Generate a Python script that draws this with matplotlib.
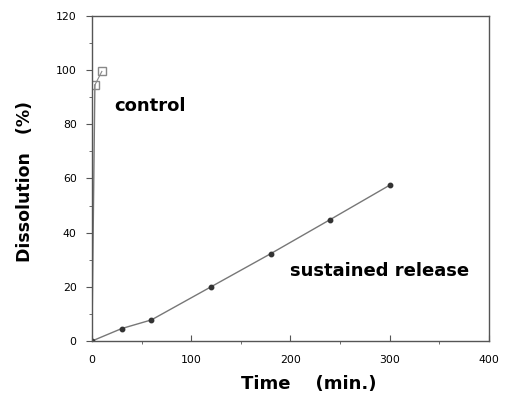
import numpy as np
import matplotlib.pyplot as plt
from matplotlib.ticker import MultipleLocator

# data
sr_time = [0, 30, 60, 120, 180, 240, 300]
sr_diss = [0, 4.6, 7.8, 20, 32.2, 44.8, 57.5]

ctrl_time = [0, 3, 10]
ctrl_diss = [0, 94.5, 99.5]

fig = plt.figure(figsize=(5.05, 3.97), dpi=100)
ax = fig.add_axes([0.182, 0.141, 0.786, 0.819])

ax.plot(sr_time, sr_diss, color='#777777', lw=1.0, marker='o', ms=3.2,
        mfc='#333333', mec='#333333')
ax.plot(ctrl_time[:2], ctrl_diss[:2], color='#777777', lw=1.0)
ax.plot(ctrl_time[1:], ctrl_diss[1:], color='#888888', lw=0.8, marker='s',
        ms=5.5, mfc='none', mec='#888888')

ax.set_xlim(0, 400)
ax.set_ylim(0, 120)
ax.xaxis.set_major_locator(MultipleLocator(100))
ax.xaxis.set_minor_locator(MultipleLocator(50))
ax.yaxis.set_major_locator(MultipleLocator(20))
ax.yaxis.set_minor_locator(MultipleLocator(10))

for s in ax.spines.values():
    s.set_color('#555555')
    s.set_linewidth(1.0)
ax.tick_params(which='both', direction='out', color='#555555', labelsize=7.8)
ax.tick_params(which='major', length=4)
ax.tick_params(which='minor', length=2)
ax.tick_params(axis='x', direction='in', pad=10)
ax.tick_params(axis='y', pad=7)

ax.set_xlabel('Time    (min.)', fontsize=13, fontweight='bold')
ax.set_ylabel('Dissolution   (%)', fontsize=12.5, fontweight='bold')
ax.xaxis.set_label_coords(0.547, -0.105)
ax.yaxis.set_label_coords(-0.145, 0.49)

ax.text(23, 85, 'control', fontsize=13, fontweight='bold')
ax.text(200, 24, 'sustained release', fontsize=13, fontweight='bold')

fig.savefig('out.png', dpi=100)
